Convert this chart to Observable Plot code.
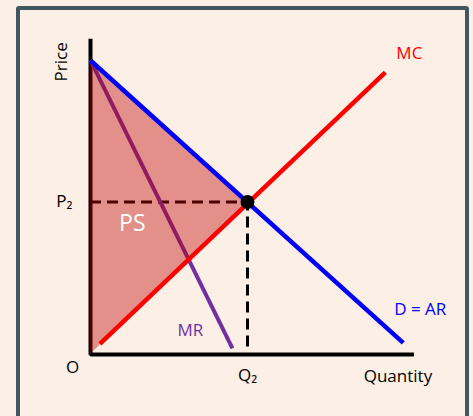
<!DOCTYPE html>
<html>
<head>
<meta charset="utf-8">
<script src="https://cdn.jsdelivr.net/npm/d3@7"></script>
<script src="https://cdn.jsdelivr.net/npm/@observablehq/plot@0.6"></script>
<style>
  html, body { margin: 0; padding: 0; background: #fcf0e6; }
  #wrap { position: relative; width: 473px; height: 416px; overflow: hidden; }
  #frame {
    position: absolute; left: 16px; top: 6px; width: 445px; height: 440px;
    border: 4.5px solid #405660; border-radius: 3px; box-sizing: content-box;
  }
  #chart { position: absolute; left: 0; top: 0; }
  #chart svg { background: transparent; }
</style>
</head>
<body>
<div id="wrap"><div id="frame"></div><div id="chart"></div></div>
<script>
// Monopoly diagram: demand (= average revenue), marginal revenue, marginal cost
const demand = [{q: 0, p: 9.64}, {q: 9.96, p: 0.38}];
const marginalRevenue = [{q: 0, p: 9.64}, {q: 4.52, p: 0.2}];
const marginalCost = [{q: 0.3, p: 0.35}, {q: 9.39, p: 9.25}];
const equilibrium = [{q: 5, p: 5}];
// producer surplus: between the marginal cost line and the demand line, up to Q2
const producerSurplus = [{q: 0, lo: 0, hi: 9.64}, {q: 5, lo: 5, hi: 5}];
const axisLines = [{q: 0, p: 10.35}, {q: 0, p: 0}, {q: 10.3, p: 0}];
const priceTicks = [5];
const priceTickLabels = ["P₂"];
const quantityTicks = [5];
const quantityTickLabels = ["Q₂"];

const font = "'Open Sans', 'Noto Sans', sans-serif";

const chart = Plot.plot({
  width: 473,
  height: 416,
  marginLeft: 90,
  marginRight: 69,
  marginTop: 49,
  marginBottom: 62,
  style: {fontFamily: font, fontSize: "17px", background: "transparent", overflow: "visible"},
  x: {domain: [0, 10], label: null},
  y: {domain: [0, 10], label: null},
  marks: [
    // axes
    Plot.line(axisLines, {x: "q", y: "p", stroke: "black", strokeWidth: 4, strokeLinejoin: "miter", strokeLinecap: "butt"}),
    Plot.axisY(priceTicks, {label: null, tickSize: 0, tickPadding: 18, tickFormat: (d, i) => priceTickLabels[i], fontSize: 17, fill: "black"}),
    Plot.axisX(quantityTicks, {label: null, tickSize: 0, tickPadding: 14, tickFormat: (d, i) => quantityTickLabels[i], fontSize: 17, fill: "black"}),
    // guides to P2 and Q2
    Plot.ruleY(equilibrium, {y: "p", x1: 0, x2: "q", stroke: "black", strokeWidth: 3, strokeDasharray: "11,6"}),
    Plot.ruleX(equilibrium, {x: "q", y1: 0.25, y2: "p", stroke: "black", strokeWidth: 3, strokeDasharray: "11,6"}),
    // marginal revenue
    Plot.line(marginalRevenue, {x: "q", y: "p", stroke: "#7030a0", strokeWidth: 4, strokeLinecap: "butt"}),
    // producer surplus shading
    Plot.areaY(producerSurplus, {x: "q", y1: "lo", y2: "hi", fill: "#be0000", fillOpacity: 0.4}),
    // demand and marginal cost
    Plot.line(demand, {x: "q", y: "p", stroke: "#0000ff", strokeWidth: 4.5, strokeLinecap: "butt"}),
    Plot.line(marginalCost, {x: "q", y: "p", stroke: "#ff0000", strokeWidth: 4.5, strokeLinecap: "butt"}),
    Plot.dot(equilibrium, {x: "q", y: "p", r: 7, fill: "black"}),
    // labels
    Plot.text([marginalCost[1]], {x: "q", y: "p", text: () => "MC", dx: 24, dy: -19, fill: "#ff0000", fontSize: 17}),
    Plot.text([demand[1]], {x: "q", y: "p", text: () => "D = AR", dx: 17, dy: -33, fill: "#0000ff", fontSize: 17}),
    Plot.text([marginalRevenue[1]], {x: "q", y: "p", text: () => "MR", dx: -42, dy: -18, fill: "#7030a0", fontSize: 17}),
    Plot.text([{q: 5 / 3, p: (9.64 + 5) / 3}], {x: "q", y: "p", text: () => "PS", dx: -10.5, dy: 18, fill: "white", fontSize: 23}),
    Plot.text([axisLines[2]], {x: "q", y: "p", text: () => "Quantity", dx: -16, dy: 22, fill: "black", fontSize: 17}),
    Plot.text([axisLines[0]], {x: "q", y: "p", text: () => "Price", dx: -29, dy: 23, rotate: -90, fill: "black", fontSize: 17}),
    Plot.text([axisLines[1]], {x: "q", y: "p", text: () => "O", dx: -18, dy: 13, fill: "black", fontSize: 17})
  ]
});
document.getElementById("chart").appendChild(chart);
</script>
</body>
</html>
